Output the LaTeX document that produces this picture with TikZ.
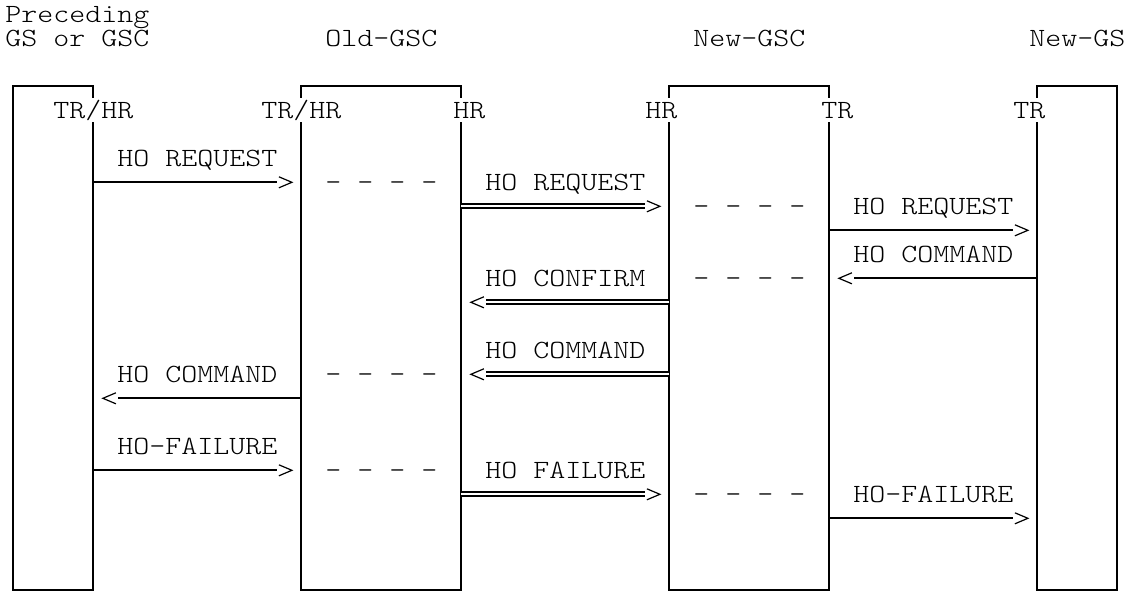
\documentclass[tikz,border=0pt]{standalone}
\usepackage{graphicx}
\pgfdeclarearrow{
  name = Chev,
  setup code = {
    \pgfarrowssettipend{0.5pt}
    \pgfarrowssetlineend{-15pt}
    \pgfarrowssetbackend{-13.5pt}
    \pgfarrowshullpoint{0.5pt}{0pt}
    \pgfarrowshullpoint{-13.5pt}{6pt}
    \pgfarrowshullpoint{-13.5pt}{-6pt}
  },
  drawing code = {
    \pgfsetdash{}{0pt}
    \pgfsetlinewidth{1.2pt}
    \pgfsetstrokecolor{black}
    \pgfsetmiterjoin
    \pgfsetbuttcap
    \pgfpathmoveto{\pgfqpoint{-13pt}{5.5pt}}
    \pgfpathlineto{\pgfqpoint{0pt}{0pt}}
    \pgfpathlineto{\pgfqpoint{-13pt}{-5.5pt}}
    \pgfusepathqstroke
  }
}
\font\lmlt="[lmmonolt10-regular.otf]" at 26.27pt
\newcommand\mytt[1]{\scalebox{1.16}[1]{\lmlt #1}}
\newcommand\lab[4]{\node[lbl] (#1) at ({5.4+16*#2},{14.3+24*#3}) {\mytt{#4}};}
\newcommand\labc[4]{\node[cut] (#1) at ({5.4+16*#2},{14.3+24*#3}) {\mytt{#4}};}
\tikzset{
  box/.style={draw, line width=2pt, inner sep=0pt, outer sep=0pt},
  lbl/.style={inner sep=0pt, outer sep=0pt, text height=19.8pt, text depth=4.2pt, anchor=west},
  cut/.style={lbl, fill=white},
  msg/.style={line width=2pt, shorten >=9pt, -Chev},
  dmsg/.style={line width=1.7pt, double=white, double distance=2.3pt, shorten >=9pt, -Chev},
}
\begin{document}
\begin{tikzpicture}[x=1pt, y=-1pt]
\useasboundingbox (0,0) rectangle (1128,594);
\foreach \r in {0,...,24} \coordinate (r\r) at (0,{14.3+24*\r});
% boxes
\node[box, minimum width=80pt,  minimum height=504pt] (pre)   at (53.4,338.3) {};
\node[box, minimum width=160pt, minimum height=504pt] (old)   at (381.4,338.3) {};
\node[box, minimum width=160pt, minimum height=504pt] (newc)  at (749.4,338.3) {};
\node[box, minimum width=80pt,  minimum height=504pt] (newgs) at (1077.4,338.3) {};
% headers
\lab{h1}{0}{0}{Preceding}
\lab{h2}{0}{1}{GS or GSC}
\lab{h3}{20}{1}{Old-GSC}
\lab{h4}{43}{1}{New-GSC}
\lab{h5}{64}{1}{New-GS}
% interface labels
\labc{p1}{3}{4}{TR/HR}
\labc{p2}{16}{4}{TR/HR}
\labc{p3}{28}{4}{HR}
\labc{p4}{40}{4}{HR}
\labc{p5}{51}{4}{TR}
\labc{p6}{63}{4}{TR}
% message labels
\lab{m1}{7}{6}{HO REQUEST}
\lab{d1}{20}{7}{- - - -}
\lab{m2}{30}{7}{HO REQUEST}
\lab{d2}{43}{8}{- - - -}
\lab{m3}{53}{8}{HO REQUEST}
\lab{m4}{53}{10}{HO COMMAND}
\lab{m5}{30}{11}{HO CONFIRM}
\lab{d3}{43}{11}{- - - -}
\lab{m6}{30}{14}{HO COMMAND}
\lab{m7}{7}{15}{HO COMMAND}
\lab{d4}{20}{15}{- - - -}
\lab{m8}{7}{18}{HO-FAILURE}
\lab{d5}{20}{19}{- - - -}
\lab{m9}{30}{19}{HO FAILURE}
\lab{d6}{43}{20}{- - - -}
\lab{m10}{53}{20}{HO-FAILURE}
% connectors
\draw[msg]  (pre.east |- r7)   -- (old.west |- r7);
\draw[dmsg] (old.east |- r8)   -- (newc.west |- r8);
\draw[msg]  (newc.east |- r9)  -- (newgs.west |- r9);
\draw[msg]  (newgs.west |- r11) -- (newc.east |- r11);
\draw[dmsg] (newc.west |- r12) -- (old.east |- r12);
\draw[dmsg] (newc.west |- r15) -- (old.east |- r15);
\draw[msg]  (old.west |- r16)  -- (pre.east |- r16);
\draw[msg]  (pre.east |- r19)  -- (old.west |- r19);
\draw[dmsg] (old.east |- r20)  -- (newc.west |- r20);
\draw[msg]  (newc.east |- r21) -- (newgs.west |- r21);
\end{tikzpicture}
\end{document}
